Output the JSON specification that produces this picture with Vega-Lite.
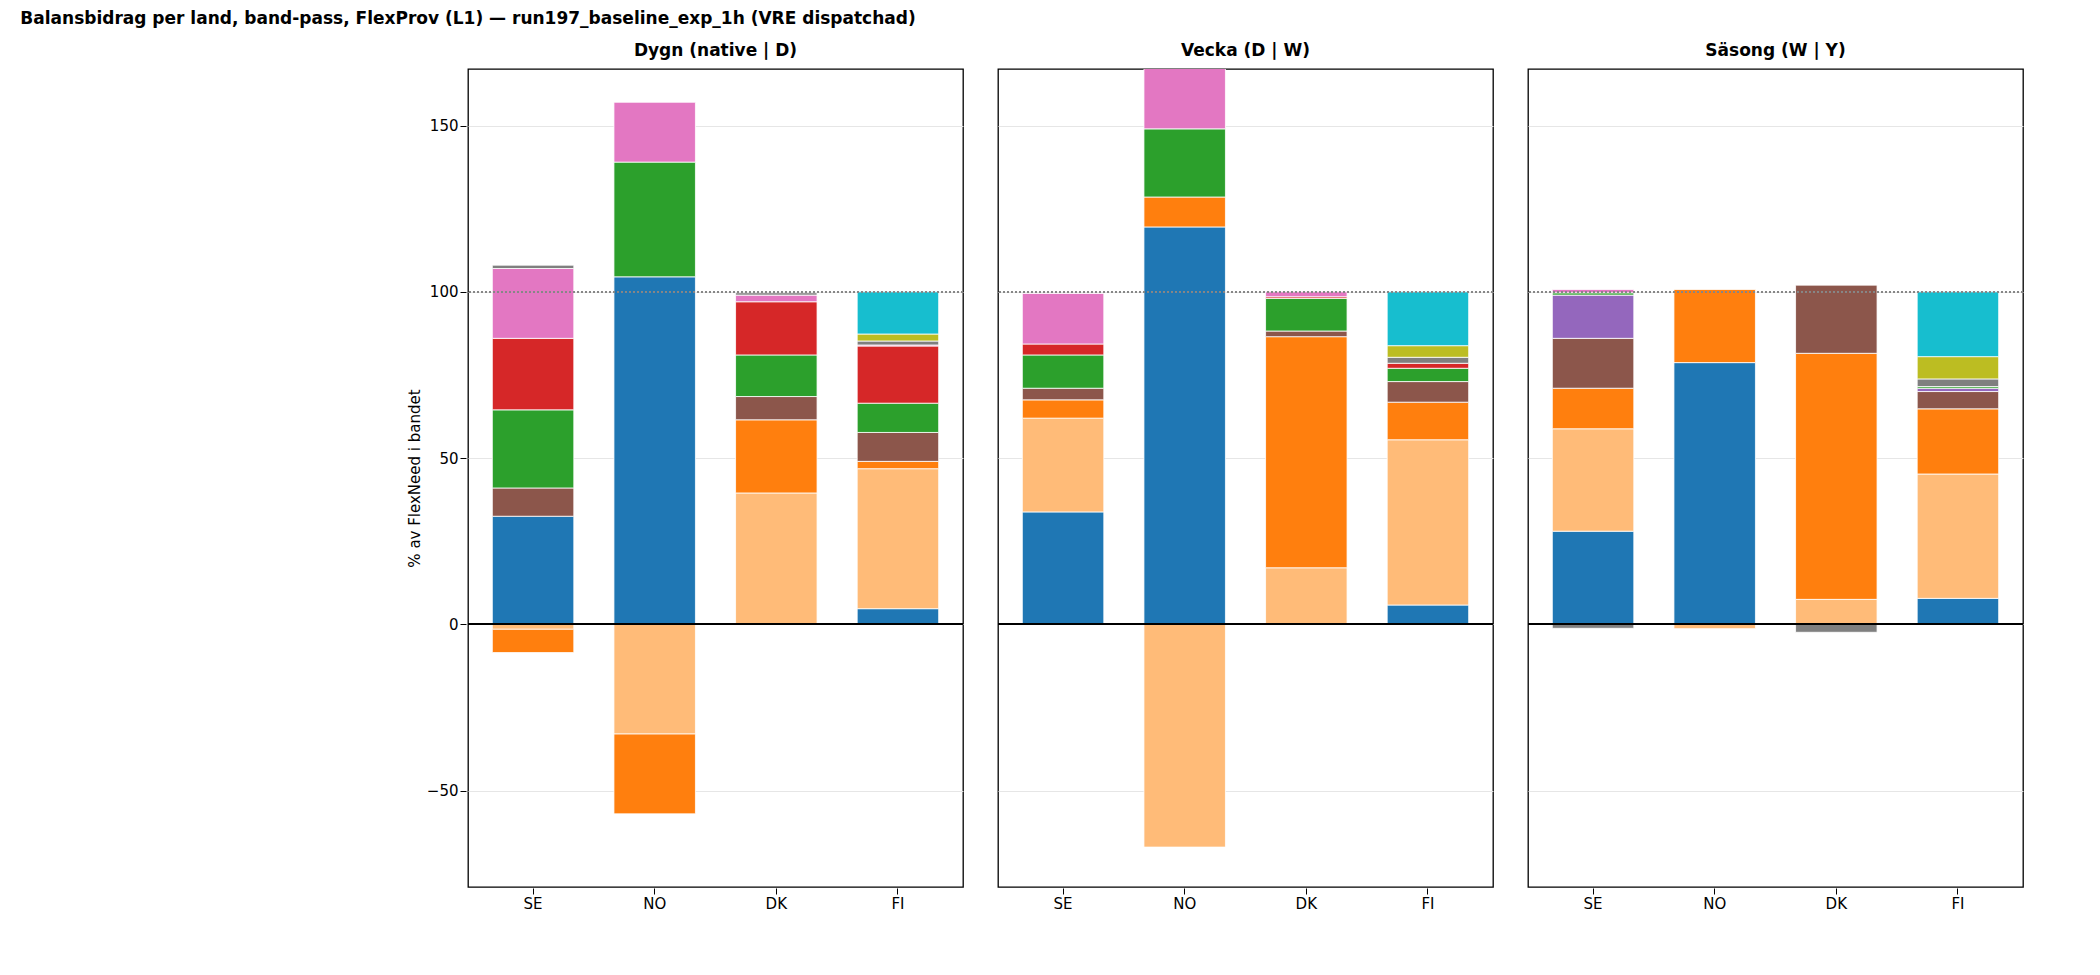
{
"$schema":"https://vega.github.io/schema/vega-lite/v6.json",
"background":"white",
"padding":{"left":20,"top":10,"right":10,"bottom":10},
"title":{"text":"Balansbidrag per land, band-pass, FlexProv (L1) — run197_baseline_exp_1h (VRE dispatchad)","font":"DejaVu Sans","fontSize":17,"fontWeight":"bold","offset":14,"anchor":"middle","frame":"group"},
"datasets":{"d":[
{"b":"Dygn  (native | D)","l":"SE","k":"Vattenkraft (magasin)","v":32.5},
{"b":"Dygn  (native | D)","l":"SE","k":"Kraftvärme (KVV)","v":8.5},
{"b":"Dygn  (native | D)","l":"SE","k":"EV-laddning","v":23.5},
{"b":"Dygn  (native | D)","l":"SE","k":"Batteri","v":21.5},
{"b":"Dygn  (native | D)","l":"SE","k":"H2-elektrolys","v":21},
{"b":"Dygn  (native | D)","l":"SE","k":"El-värme (VP+elpanna)","v":1},
{"b":"Dygn  (native | D)","l":"SE","k":"NTC inom Norden","v":-1.5},
{"b":"Dygn  (native | D)","l":"SE","k":"Marknad (kontinent)","v":-7},
{"b":"Dygn  (native | D)","l":"NO","k":"Vattenkraft (magasin)","v":104.5},
{"b":"Dygn  (native | D)","l":"NO","k":"EV-laddning","v":34.5},
{"b":"Dygn  (native | D)","l":"NO","k":"H2-elektrolys","v":18},
{"b":"Dygn  (native | D)","l":"NO","k":"NTC inom Norden","v":-33},
{"b":"Dygn  (native | D)","l":"NO","k":"Marknad (kontinent)","v":-24},
{"b":"Dygn  (native | D)","l":"DK","k":"NTC inom Norden","v":39.5},
{"b":"Dygn  (native | D)","l":"DK","k":"Marknad (kontinent)","v":22},
{"b":"Dygn  (native | D)","l":"DK","k":"Kraftvärme (KVV)","v":7},
{"b":"Dygn  (native | D)","l":"DK","k":"EV-laddning","v":12.5},
{"b":"Dygn  (native | D)","l":"DK","k":"Batteri","v":16},
{"b":"Dygn  (native | D)","l":"DK","k":"H2-elektrolys","v":2},
{"b":"Dygn  (native | D)","l":"DK","k":"El-värme (VP+elpanna)","v":0.7},
{"b":"Dygn  (native | D)","l":"FI","k":"Vattenkraft (magasin)","v":4.7},
{"b":"Dygn  (native | D)","l":"FI","k":"NTC inom Norden","v":42.1},
{"b":"Dygn  (native | D)","l":"FI","k":"Marknad (kontinent)","v":2.2},
{"b":"Dygn  (native | D)","l":"FI","k":"Kraftvärme (KVV)","v":8.7},
{"b":"Dygn  (native | D)","l":"FI","k":"EV-laddning","v":8.8},
{"b":"Dygn  (native | D)","l":"FI","k":"Batteri","v":17.2},
{"b":"Dygn  (native | D)","l":"FI","k":"H2-elektrolys","v":0.3},
{"b":"Dygn  (native | D)","l":"FI","k":"El-värme (VP+elpanna)","v":1.2},
{"b":"Dygn  (native | D)","l":"FI","k":"Must-run-termik","v":2.1},
{"b":"Dygn  (native | D)","l":"FI","k":"Gas","v":12.7},
{"b":"Vecka  (D | W)","l":"SE","k":"Vattenkraft (magasin)","v":33.8},
{"b":"Vecka  (D | W)","l":"SE","k":"NTC inom Norden","v":28.2},
{"b":"Vecka  (D | W)","l":"SE","k":"Marknad (kontinent)","v":5.5},
{"b":"Vecka  (D | W)","l":"SE","k":"Kraftvärme (KVV)","v":3.5},
{"b":"Vecka  (D | W)","l":"SE","k":"EV-laddning","v":10},
{"b":"Vecka  (D | W)","l":"SE","k":"Batteri","v":3.3},
{"b":"Vecka  (D | W)","l":"SE","k":"H2-elektrolys","v":15.2},
{"b":"Vecka  (D | W)","l":"NO","k":"Vattenkraft (magasin)","v":119.5},
{"b":"Vecka  (D | W)","l":"NO","k":"Marknad (kontinent)","v":9},
{"b":"Vecka  (D | W)","l":"NO","k":"EV-laddning","v":20.5},
{"b":"Vecka  (D | W)","l":"NO","k":"H2-elektrolys","v":22},
{"b":"Vecka  (D | W)","l":"NO","k":"NTC inom Norden","v":-67},
{"b":"Vecka  (D | W)","l":"DK","k":"NTC inom Norden","v":17},
{"b":"Vecka  (D | W)","l":"DK","k":"Marknad (kontinent)","v":69.5},
{"b":"Vecka  (D | W)","l":"DK","k":"Kraftvärme (KVV)","v":1.7},
{"b":"Vecka  (D | W)","l":"DK","k":"EV-laddning","v":9.8},
{"b":"Vecka  (D | W)","l":"DK","k":"Batteri","v":0.5},
{"b":"Vecka  (D | W)","l":"DK","k":"H2-elektrolys","v":1.5},
{"b":"Vecka  (D | W)","l":"FI","k":"Vattenkraft (magasin)","v":5.8},
{"b":"Vecka  (D | W)","l":"FI","k":"NTC inom Norden","v":49.7},
{"b":"Vecka  (D | W)","l":"FI","k":"Marknad (kontinent)","v":11.3},
{"b":"Vecka  (D | W)","l":"FI","k":"Kraftvärme (KVV)","v":6.2},
{"b":"Vecka  (D | W)","l":"FI","k":"EV-laddning","v":4},
{"b":"Vecka  (D | W)","l":"FI","k":"Batteri","v":1.5},
{"b":"Vecka  (D | W)","l":"FI","k":"El-värme (VP+elpanna)","v":1.8},
{"b":"Vecka  (D | W)","l":"FI","k":"Must-run-termik","v":3.5},
{"b":"Vecka  (D | W)","l":"FI","k":"Gas","v":16.2},
{"b":"Säsong  (W | Y)","l":"SE","k":"Vattenkraft (magasin)","v":28},
{"b":"Säsong  (W | Y)","l":"SE","k":"NTC inom Norden","v":30.8},
{"b":"Säsong  (W | Y)","l":"SE","k":"Marknad (kontinent)","v":12.2},
{"b":"Säsong  (W | Y)","l":"SE","k":"Kraftvärme (KVV)","v":15},
{"b":"Säsong  (W | Y)","l":"SE","k":"Kärnkraft","v":13},
{"b":"Säsong  (W | Y)","l":"SE","k":"EV-laddning","v":0.7},
{"b":"Säsong  (W | Y)","l":"SE","k":"H2-elektrolys","v":1},
{"b":"Säsong  (W | Y)","l":"SE","k":"El-värme (VP+elpanna)","v":-1.2},
{"b":"Säsong  (W | Y)","l":"NO","k":"Vattenkraft (magasin)","v":78.7},
{"b":"Säsong  (W | Y)","l":"NO","k":"Marknad (kontinent)","v":22},
{"b":"Säsong  (W | Y)","l":"NO","k":"NTC inom Norden","v":-1.3},
{"b":"Säsong  (W | Y)","l":"DK","k":"NTC inom Norden","v":7.5},
{"b":"Säsong  (W | Y)","l":"DK","k":"Marknad (kontinent)","v":74},
{"b":"Säsong  (W | Y)","l":"DK","k":"Kraftvärme (KVV)","v":20.5},
{"b":"Säsong  (W | Y)","l":"DK","k":"El-värme (VP+elpanna)","v":-2.4},
{"b":"Säsong  (W | Y)","l":"FI","k":"Vattenkraft (magasin)","v":7.8},
{"b":"Säsong  (W | Y)","l":"FI","k":"NTC inom Norden","v":37.4},
{"b":"Säsong  (W | Y)","l":"FI","k":"Marknad (kontinent)","v":19.6},
{"b":"Säsong  (W | Y)","l":"FI","k":"Kraftvärme (KVV)","v":5.2},
{"b":"Säsong  (W | Y)","l":"FI","k":"Kärnkraft","v":1},
{"b":"Säsong  (W | Y)","l":"FI","k":"EV-laddning","v":0.5},
{"b":"Säsong  (W | Y)","l":"FI","k":"El-värme (VP+elpanna)","v":2.3},
{"b":"Säsong  (W | Y)","l":"FI","k":"Must-run-termik","v":6.7},
{"b":"Säsong  (W | Y)","l":"FI","k":"Gas","v":19.5}
]},
"data":{"name":"d"},
"transform":[{"calculate":"indexof(['Vattenkraft (magasin)','NTC inom Norden','Marknad (kontinent)','Kraftvärme (KVV)','Kärnkraft','EV-laddning','Batteri','H2-elektrolys','El-värme (VP+elpanna)','Must-run-termik','Gas'], datum.k)","as":"o"}],
"facet":{"column":{"field":"b","sort":["Dygn  (native | D)","Vecka  (D | W)","Säsong  (W | Y)"],"title":null,"header":{"labelFont":"DejaVu Sans","labelFontSize":17,"labelFontWeight":"bold","labelColor":"black","labelPadding":8}}},
"spacing":31,
"spec":{
"width":495,"height":818,
"layer":[
{"mark":{"type":"bar","stroke":"white","strokeWidth":0.8,"clip":true},
"encoding":{
"x":{"field":"l","type":"nominal","sort":["SE","NO","DK","FI"],"title":null,"scale":{"paddingInner":0.33,"paddingOuter":0.2},"axis":{"grid":false,"labelAngle":0,"labelFont":"DejaVu Sans","labelFontSize":15,"labelColor":"black","domain":false,"tickColor":"black","tickSize":6}},
"y":{"field":"v","type":"quantitative","stack":"zero","scale":{"domain":[-79,167],"nice":false},"title":"% av FlexNeed i bandet","axis":{"grid":true,"values":[-50,0,50,100,150],"labelFont":"DejaVu Sans","labelFontSize":15,"labelColor":"black","titleFont":"DejaVu Sans","titleFontSize":15,"titleFontWeight":"normal","titleColor":"black","gridColor":"#e6e6e6","domain":false,"tickColor":"black","tickSize":6}},
"color":{"field":"k","type":"nominal","title":null,"scale":{"domain":["Vattenkraft (magasin)","NTC inom Norden","Marknad (kontinent)","Kraftvärme (KVV)","Kärnkraft","EV-laddning","Batteri","H2-elektrolys","El-värme (VP+elpanna)","Must-run-termik","Gas"],"range":["#1f77b4","#ffbb78","#ff7f0e","#8c564b","#9467bd","#2ca02c","#d62728","#e377c2","#7f7f7f","#bcbd22","#17becf"]},"legend":{"labelFont":"DejaVu Sans","labelFontSize":14,"labelColor":"black","labelLimit":400,"symbolType":"square","symbolSize":260,"strokeColor":"#cccccc","padding":10,"rowPadding":7,"cornerRadius":3,"orient":"none","legendX":1694,"legendY":235}},
"order":{"field":"o","type":"quantitative"}}},
{"mark":{"type":"rule","color":"#888888","strokeDash":[2,2],"strokeWidth":1},"encoding":{"y":{"datum":100}}},
{"mark":{"type":"rule","color":"black","strokeWidth":1.3},"encoding":{"y":{"datum":0}}}
]},
"config":{"view":{"stroke":"black","strokeWidth":1.3}}
}
